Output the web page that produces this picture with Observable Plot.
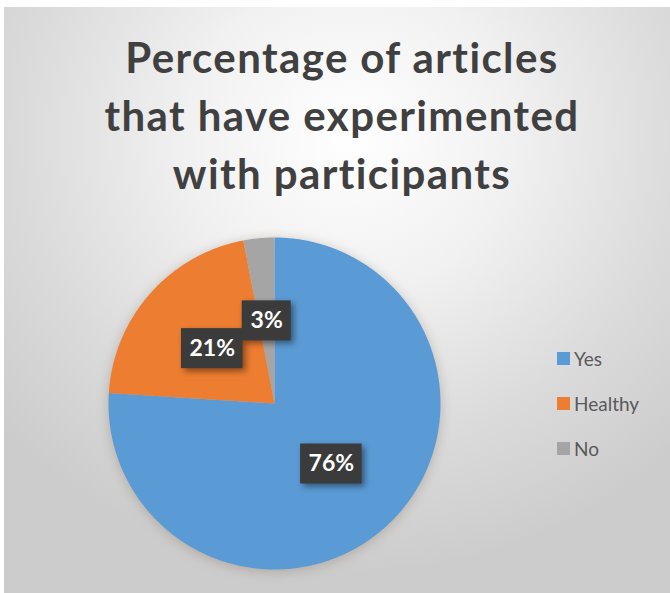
<!DOCTYPE html>
<html>
<head>
<meta charset="utf-8">
<script src="https://cdn.jsdelivr.net/npm/d3@7"></script>
<script src="https://cdn.jsdelivr.net/npm/@observablehq/plot@0.6"></script>
<style>
  html, body { margin: 0; padding: 0; background: #ffffff; }
  #page { position: relative; width: 670px; height: 593px; overflow: hidden; background: #fff; }
  #frame { position: absolute; left: 4px; top: 7px; width: 666px; height: 586px;
    background: radial-gradient(ellipse 70% 75% at 52% 22%, #ffffff 0%, #f1f1f1 35%, #dbdbdb 70%, #cccccc 100%); }
  #title { position: absolute; left: 0; top: 28px; width: 684px; text-align: center;
    font-family: Lato, "Open Sans", sans-serif; font-weight: 700; font-size: 42px; line-height: 58px;
    letter-spacing: 1.4px; color: #404040; }
  #chart { position: absolute; left: 0; top: 0; }
  #chart g[aria-label="line"] { filter: drop-shadow(0px 2px 6px rgba(120,100,80,0.35)); }
  #chart g[aria-label="rect"] { filter: drop-shadow(3px 3px 3px rgba(0,0,0,0.45)); }
  #legend { position: absolute; left: 557px; top: 336px; font-family: Lato, "Open Sans", sans-serif;
    font-size: 19px; color: #595959; }
  #legend .item { display: flex; align-items: center; height: 45px; }
  #legend .sw { width: 13px; height: 13px; margin-right: 4px; }
</style>
</head>
<body>
<div id="page">
  <div id="frame"></div>
  <div id="chart"></div>
  <div id="title">Percentage of articles<br>that have experimented<br>with participants</div>
  <div id="legend"></div>
</div>
<script>
// ---- data ----
const categories = ["Yes", "Healthy", "No"];
const values = [76, 21, 3];
const valueLabels = ["76%", "21%", "3%"];
const colors = ["#5B9BD5", "#ED7D31", "#A5A5A5"];

// ---- layout ----
const W = 670, H = 593;
const CX = 274, CY = 403, R = 166;
const LABEL_RADIUS = 0.5;

const data = categories.map((c, i) => ({ name: c, value: values[i], label: valueLabels[i] }));
const arcs = d3.pie().sort(null).value(d => d.value)(data);

// slice outlines (angles from 12 o'clock, clockwise)
const slicePoints = [];
for (const a of arcs) {
  const name = a.data.name;
  slicePoints.push({ name, x: 0, y: 0 });
  const n = Math.max(2, Math.ceil((a.endAngle - a.startAngle) / (Math.PI / 360)));
  for (let k = 0; k <= n; k++) {
    const t = a.startAngle + (a.endAngle - a.startAngle) * k / n;
    slicePoints.push({ name, x: Math.sin(t), y: Math.cos(t) });
  }
  slicePoints.push({ name, x: 0, y: 0 });
}

const labelData = arcs.map(a => {
  const m = (a.startAngle + a.endAngle) / 2;
  const halfW = (24 + 12.5 * a.data.label.length) / 2 / R;
  return { name: a.data.name, label: a.data.label,
    x: LABEL_RADIUS * Math.sin(m), y: LABEL_RADIUS * Math.cos(m), halfW };
});

const chart = Plot.plot({
  width: W, height: H,
  margin: 0,
  style: { background: "transparent", overflow: "visible" },
  x: { domain: [-1, 1], range: [CX - R, CX + R], axis: null },
  y: { domain: [-1, 1], range: [CY + R, CY - R], axis: null },
  color: { domain: categories, range: colors },
  marks: [
    Plot.line(slicePoints, { x: "x", y: "y", z: "name", fill: "name", stroke: "none", curve: "linear" }),
    Plot.rect(labelData, { x1: d => d.x - d.halfW, x2: d => d.x + d.halfW, y1: "y", y2: "y",
      insetTop: -20, insetBottom: -20, fill: "#3b3b3b" }),
    Plot.text(labelData, { x: "x", y: "y", text: "label", fill: "white", fontWeight: "bold",
      fontSize: 23, fontFamily: "Lato, 'Open Sans', sans-serif" })
  ]
});
document.getElementById("chart").appendChild(chart);

// legend
const legend = document.getElementById("legend");
categories.forEach((c, i) => {
  const item = document.createElement("div");
  item.className = "item";
  const sw = document.createElement("span");
  sw.className = "sw";
  sw.style.background = colors[i];
  const tx = document.createElement("span");
  tx.textContent = c;
  item.appendChild(sw); item.appendChild(tx);
  legend.appendChild(item);
});
</script>
</body>
</html>
